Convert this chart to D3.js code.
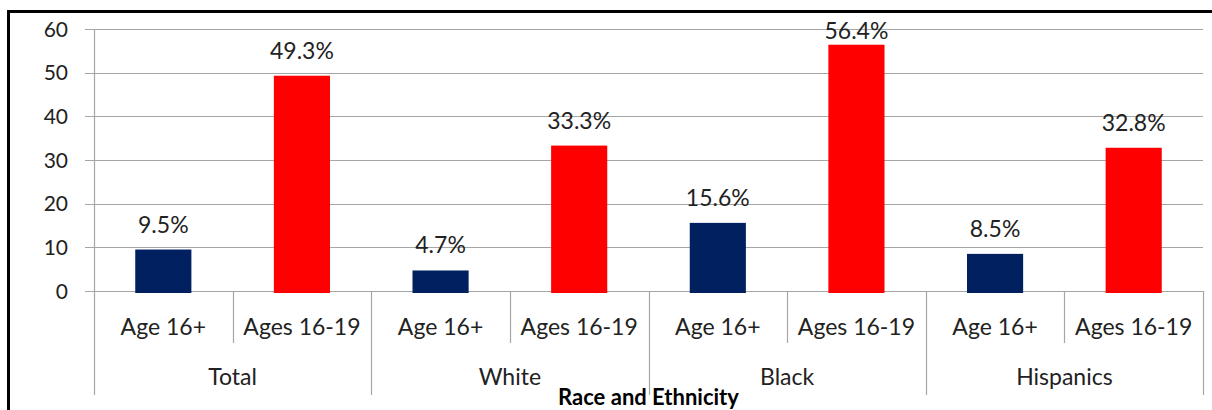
<!DOCTYPE html>
<html>
<head>
<meta charset="utf-8">
<script src="https://cdn.jsdelivr.net/npm/d3@7"></script>
<style>
  body { margin: 0; background: #fff; }
  svg { display: block; font-family: Lato, "Open Sans", sans-serif; }
</style>
</head>
<body>
<div id="chart"></div>
<script>
const groups = ["Total", "White", "Black", "Hispanics"];
const subs = ["Age 16+", "Ages 16-19"];
const age16plus = [9.5, 4.7, 15.6, 8.5];
const ages1619 = [49.3, 33.3, 56.4, 32.8];
const yTicks = [0, 10, 20, 30, 40, 50, 60];
const axisTitle = "Race and Ethnicity";
const colors = ["#002060", "#ff0000"];

const width = 1212, height = 410;
const margin = {top: 29, right: 9, bottom: 119, left: 94};

const svg = d3.select("#chart").append("svg")
    .attr("width", width)
    .attr("height", height);

// outer frame
svg.append("path")
    .attr("d", `M8.5,${height + 5}V11.5H${width + 5}`)
    .attr("fill", "none")
    .attr("stroke", "#000")
    .attr("stroke-width", 3);

// flat list of bars
let bars = [];
groups.forEach((g, i) => {
    bars.push({group: g, sub: subs[0], value: age16plus[i], key: g + "|" + subs[0], s: 0});
    bars.push({group: g, sub: subs[1], value: ages1619[i], key: g + "|" + subs[1], s: 1});
});

const x = d3.scaleBand()
    .domain(bars.map(d => d.key))
    .range([margin.left, width - margin.right])
    .paddingInner(0)
    .paddingOuter(0);

const xg = d3.scaleBand()
    .domain(groups)
    .range([margin.left, width - margin.right]);

const y = d3.scaleLinear()
    .domain([0, 60])
    .range([height - margin.bottom, margin.top]);

const y0 = y(0);

// gridlines
svg.append("g")
    .selectAll("line")
    .data(yTicks)
    .join("line")
    .attr("x1", margin.left - 9)
    .attr("x2", width - margin.right)
    .attr("y1", d => Math.round(y(d)) + 0.5)
    .attr("y2", d => Math.round(y(d)) + 0.5)
    .attr("stroke", "#a6a6a6")
    .attr("stroke-width", 1.2);

// y axis line
svg.append("line")
    .attr("x1", margin.left + 0.5).attr("x2", margin.left + 0.5)
    .attr("y1", y(60)).attr("y2", height - 15)
    .attr("stroke", "#a6a6a6")
    .attr("stroke-width", 1.2);

// y tick labels
svg.append("g")
    .selectAll("text")
    .data(yTicks)
    .join("text")
    .attr("x", 68)
    .attr("y", d => y(d))
    .attr("dy", "0.36em")
    .attr("text-anchor", "end")
    .attr("font-size", 21)
    .attr("fill", "#222")
    .text(d => d);

// bars
const bw = x.bandwidth() * 0.405;
svg.append("g")
    .selectAll("rect")
    .data(bars)
    .join("rect")
    .attr("x", d => x(d.key) + (x.bandwidth() - bw) / 2)
    .attr("y", d => y(d.value))
    .attr("width", bw)
    .attr("height", d => y0 - y(d.value) + 2)
    .attr("fill", d => colors[d.s]);

// value labels (kept inside the plot top like the original)
svg.append("g")
    .selectAll("text")
    .data(bars)
    .join("text")
    .attr("x", d => x(d.key) + x.bandwidth() / 2)
    .attr("y", d => Math.max(y(d.value) - 17, margin.top + 10))
    .attr("text-anchor", "middle")
    .attr("font-size", 23)
    .attr("fill", "#222")
    .text(d => d.value.toFixed(1) + "%");

// separators under the axis
const tickG = svg.append("g").attr("stroke", "#a6a6a6").attr("stroke-width", 1.2);
bars.forEach(d => {
    if (d.s === 1) {
        const xx = Math.round(x(d.key)) + 0.5;
        tickG.append("line").attr("x1", xx).attr("x2", xx).attr("y1", y0).attr("y2", y0 + 52);
    }
});
groups.forEach(g => {
    const xx = Math.round(xg(g) + xg.bandwidth()) + 0.5;
    tickG.append("line").attr("x1", xx).attr("x2", xx).attr("y1", y0).attr("y2", height - 15);
});

// sub labels
svg.append("g")
    .selectAll("text")
    .data(bars)
    .join("text")
    .attr("x", d => x(d.key) + x.bandwidth() / 2)
    .attr("y", y0 + 36)
    .attr("dy", "0.35em")
    .attr("text-anchor", "middle")
    .attr("font-size", 23)
    .attr("fill", "#222")
    .text(d => d.sub);

// group labels
svg.append("g")
    .selectAll("text")
    .data(groups)
    .join("text")
    .attr("x", d => xg(d) + xg.bandwidth() / 2)
    .attr("y", y0 + 86)
    .attr("dy", "0.35em")
    .attr("text-anchor", "middle")
    .attr("font-size", 23)
    .attr("fill", "#222")
    .text(d => d);

// axis title
svg.append("text")
    .attr("x", (margin.left + width - margin.right) / 2)
    .attr("y", height - 5)
    .attr("text-anchor", "middle")
    .attr("font-size", 22)
    .attr("font-weight", "bold")
    .attr("fill", "#000")
    .text(axisTitle);
</script>
</body>
</html>
